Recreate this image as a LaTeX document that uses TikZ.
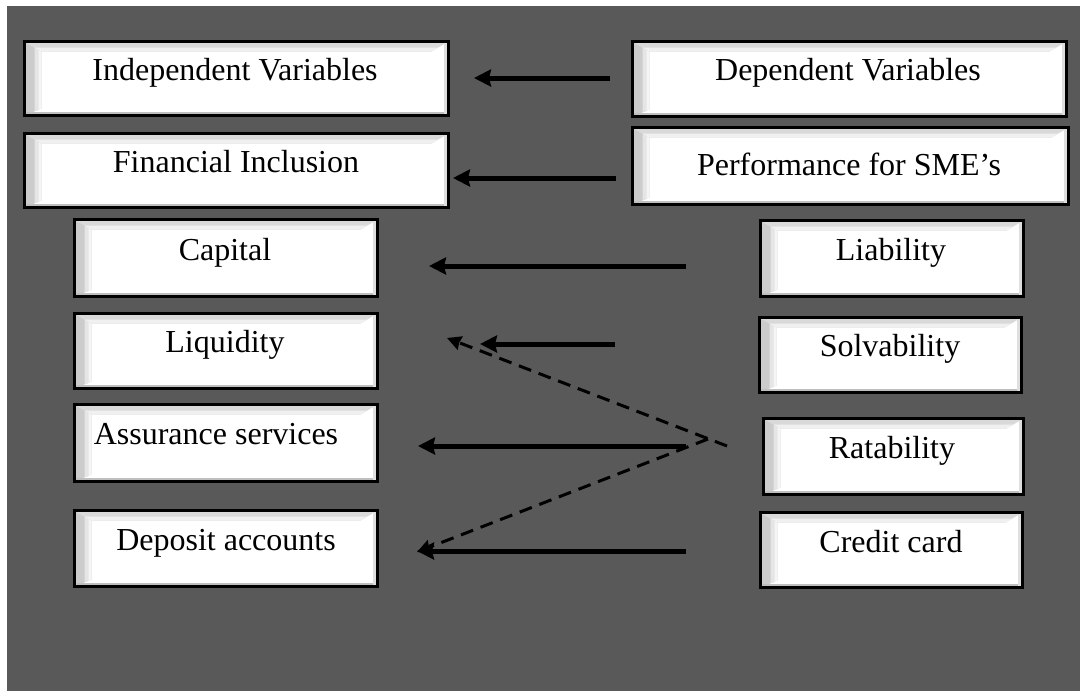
\documentclass[tikz,border=0pt]{standalone}
\usepackage{fontspec}
\setmainfont{Liberation Serif}
\usetikzlibrary{arrows.meta}
\definecolor{bg}{HTML}{595959}
\tikzset{
  bx/.style={rectangle, draw=black, line width=3pt, fill=white, inner sep=0pt,
    path picture={
      \fill[gray!40]
        (path picture bounding box.north west) -- (path picture bounding box.south west)
        -- ([xshift=17pt,yshift=7pt]path picture bounding box.south west)
        -- ([xshift=17pt,yshift=-10pt]path picture bounding box.north west) -- cycle;
      \fill[gray!20]
        ([xshift=10pt,yshift=4pt]path picture bounding box.south west)
        -- ([xshift=17pt,yshift=7pt]path picture bounding box.south west)
        -- ([xshift=17pt,yshift=-10pt]path picture bounding box.north west)
        -- ([xshift=10pt,yshift=-6pt]path picture bounding box.north west) -- cycle;
      \fill[gray!8]
        ([xshift=14pt,yshift=5.5pt]path picture bounding box.south west)
        -- ([xshift=17pt,yshift=7pt]path picture bounding box.south west)
        -- ([xshift=17pt,yshift=-10pt]path picture bounding box.north west)
        -- ([xshift=14pt,yshift=-8pt]path picture bounding box.north west) -- cycle;
      \fill[gray!30]
        (path picture bounding box.north west) -- (path picture bounding box.north east)
        -- ([xshift=-17pt,yshift=-10pt]path picture bounding box.north east)
        -- ([xshift=17pt,yshift=-10pt]path picture bounding box.north west) -- cycle;
      \fill[gray!12]
        ([xshift=10pt,yshift=-6pt]path picture bounding box.north west)
        -- ([xshift=-10pt,yshift=-6pt]path picture bounding box.north east)
        -- ([xshift=-17pt,yshift=-10pt]path picture bounding box.north east)
        -- ([xshift=17pt,yshift=-10pt]path picture bounding box.north west) -- cycle;
      \fill[gray!50] (path picture bounding box.south west) rectangle
        ([yshift=4pt]path picture bounding box.south east);
      \fill[gray!25] (path picture bounding box.south east) rectangle
        ([xshift=-4.5pt]path picture bounding box.north east);
    }},
  lbl/.style={anchor=base, inner sep=0pt, text=black, font=\fontsize{32}{36}\selectfont},
  arr/.style={line width=5pt, -{Stealth[length=17pt,width=17pt,inset=2pt]}},
  darr/.style={line width=3pt, dash pattern=on 13pt off 8pt, -{Stealth[length=14pt,width=14pt,inset=1pt]}}
}
\begin{document}
\begin{tikzpicture}[x=1pt,y=-1pt]
\useasboundingbox (0,0) rectangle (1080,691);
\fill[white] (0,0) rectangle (1080,691);
\fill[bg] (7,6) rectangle (1080,691);
% left column
\node[bx, minimum width=424pt, minimum height=74pt] (ind) at (236.5,78.5) {};
\node[bx, minimum width=424pt, minimum height=74pt] (fin) at (236.5,170.5) {};
\node[bx, minimum width=303pt, minimum height=77pt] (cap) at (226,258) {};
\node[bx, minimum width=303pt, minimum height=75pt] (liq) at (226,351) {};
\node[bx, minimum width=303pt, minimum height=77pt] (ass) at (226,443) {};
\node[bx, minimum width=303pt, minimum height=76pt] (depo) at (226,548.5) {};
% right column
\node[bx, minimum width=434pt, minimum height=75pt] (dep) at (849.5,79) {};
\node[bx, minimum width=436pt, minimum height=77pt] (perf) at (850.5,166) {};
\node[bx, minimum width=263pt, minimum height=76pt] (lia) at (892,258.5) {};
\node[bx, minimum width=262pt, minimum height=75pt] (sol) at (890.5,355) {};
\node[bx, minimum width=260pt, minimum height=76pt] (rat) at (893.5,456.5) {};
\node[bx, minimum width=262pt, minimum height=75pt] (cc) at (891.5,550) {};
% labels
\node[lbl] (indt) at (235,80) {Independent Variables};
\node[lbl] (fint) at (236,172) {Financial Inclusion};
\node[lbl] (capt) at (225,260) {Capital};
\node[lbl] (liqt) at (225,352) {Liquidity};
\node[lbl] (asst) at (216,444) {Assurance services};
\node[lbl] (depot) at (226,550) {Deposit accounts};
\node[lbl] (dept) at (848,80) {Dependent Variables};
\node[lbl] (perft) at (849,175) {Performance for SME’s};
\node[lbl] (liat) at (891,260) {Liability};
\node[lbl] (solt) at (890,356) {Solvability};
\node[lbl] (ratt) at (892,458) {Ratability};
\node[lbl] (cct) at (891,552) {Credit card};
% arrow end points
\coordinate (a1s) at (610,78);  \coordinate (a1e) at (474,78);
\coordinate (a2s) at (616,178); \coordinate (a2e) at (453,178);
\coordinate (a3s) at (686,266); \coordinate (a3e) at (429,266);
\coordinate (a4s) at (615,344); \coordinate (a4e) at (480,344);
\coordinate (a5s) at (686,446); \coordinate (a5e) at (418,446);
\coordinate (a6s) at (686,551); \coordinate (a6e) at (417,551);
\coordinate (d1s) at (727,446); \coordinate (d1e) at (447,338);
\coordinate (d2s) at (708,439); \coordinate (d2e) at (417,552);
\draw[arr] (a1s) -- (a1e);
\draw[arr] (a2s) -- (a2e);
\draw[arr] (a3s) -- (a3e);
\draw[arr] (a4s) -- (a4e);
\draw[arr] (a5s) -- (a5e);
\draw[arr] (a6s) -- (a6e);
\draw[darr] (d1s) -- (d1e);
\draw[darr] (d2s) -- (d2e);
\end{tikzpicture}
\end{document}
